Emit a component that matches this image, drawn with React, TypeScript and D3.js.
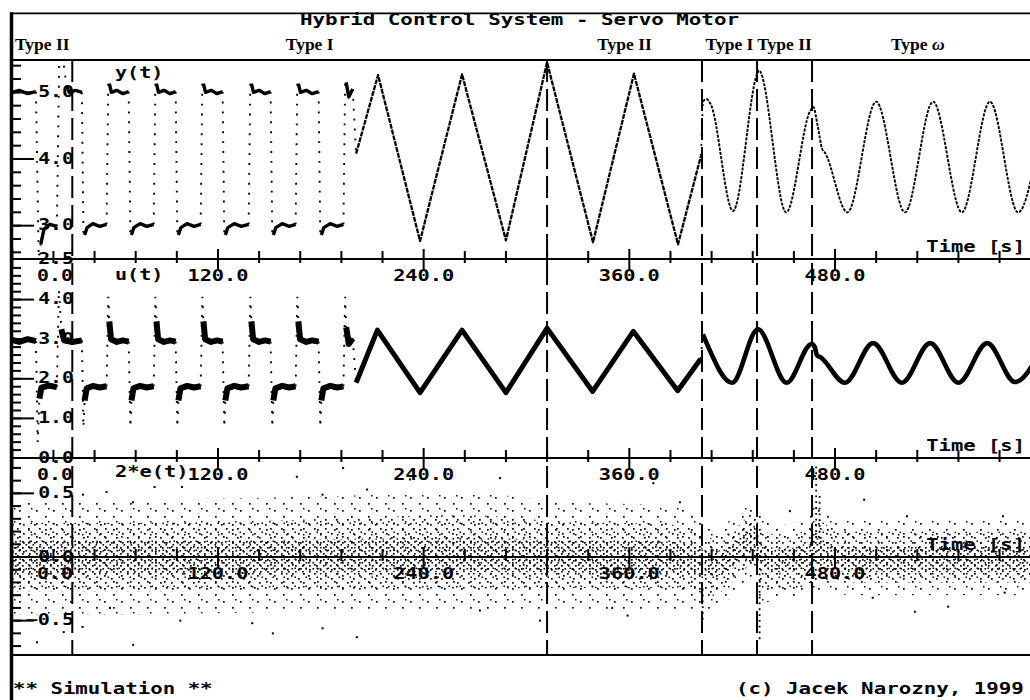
import React from "react";
import * as d3 from "d3";

type Pt = [number, number];

// ---------- header / axes ----------
const TITLE = "Hybrid Control System - Servo Motor";
const FOOTER_LEFT = "** Simulation **";
const FOOTER_RIGHT = "(c) Jacek Narozny, 1999";
const modeBounds = [0, 35, 312, 402.4, 434.5, 466.6, 590];
const modeNames = ["Type II", "Type I", "Type II", "Type I", "Type II", "Type ω"];
const switchTimes = [35, 312, 402.4, 434.5, 466.6];

const timeTicks = d3.range(0, 601, 24);
const timeLabels = [0, 120, 240, 360, 480];

const yTicksMinor = d3.range(2.6, 5.45, 0.2);
const yTicksLabeled = [3, 4, 5];
const uTicksMinor = d3.range(0.2, 4.85, 0.2);
const uTicksLabeled = [1, 2, 3, 4];
const eTicksMinor = d3.range(-0.7, 0.75, 0.1);
const eTicksLabeled = [-0.5, 0, 0.5];

// ---------- y(t): plant output ----------
const ySegs: Pt[][] = [
  [[0, 5.0], [4, 5.03], [9, 4.98], [13.8, 5.01]],
  [[16.6, 2.72], [18.5, 2.95], [22, 3.02], [26.0, 2.99]],
  [[31.6, 5.1], [33.2, 5.0], [37, 5.03], [40.6, 5.0]],
  [[42.2, 2.86], [43.6, 2.97], [47, 3.03], [51, 2.99], [55.0, 3.02]],
  [[56.6, 5.13], [57.8, 5.0], [61, 5.03], [64.5, 4.98], [67.9, 5.01]],
  [[69.5, 2.86], [70.9, 2.97], [74.5, 3.03], [78.5, 2.99], [82.5, 3.02]],
  [[84.1, 5.13], [85.3, 5.0], [88.5, 5.03], [92, 4.98], [95.3, 5.01]],
  [[96.9, 2.86], [98.3, 2.97], [102, 3.03], [106, 2.99], [109.9, 3.02]],
  [[111.5, 5.13], [112.7, 5.0], [116, 5.03], [119.5, 4.98], [122.7, 5.01]],
  [[124.3, 2.86], [125.7, 2.97], [129.5, 3.03], [133.5, 2.99], [137.9, 3.02]],
  [[139.5, 5.13], [140.7, 5.0], [144, 5.03], [147.5, 4.98], [150.7, 5.01]],
  [[152.3, 2.86], [153.7, 2.97], [157.5, 3.03], [161.5, 2.99], [165.3, 3.02]],
  [[166.9, 5.13], [168.1, 5.0], [171.5, 5.03], [175, 4.98], [178.7, 5.01]],
  [[180.3, 2.86], [181.7, 2.97], [185.5, 3.03], [189.5, 2.99], [193.2, 3.02]],
  [[194.8, 5.15], [196.3, 4.93], [198.6, 5.05]],
  [[200.6, 4.08], [213.4, 5.26], [237.9, 2.77], [262.4, 5.27], [288, 2.78], [312, 5.45],
   [338.8, 2.75], [362.7, 5.28], [388.4, 2.72], [401.8, 4.05]],
  [[402.9, 4.86], [405, 4.9], [407.5, 4.82], [420.5, 3.22], [434.6, 5.28], [435.6, 5.33],
   [451.5, 3.2], [465.5, 4.72], [467.3, 4.78], [470, 4.48], [472.5, 4.15], [474, 4.1],
   [487.2, 3.2], [504, 4.86], [520.8, 3.2], [537.2, 4.86], [554, 3.2], [570.4, 4.86],
   [586.8, 3.2], [600, 4.45]],
];
// extreme value passed through while jumping from one segment to the next
const yJumps: (Pt | null)[] = [
  [15.4, 2.52], [27.6, 5.9], [41.5, 2.83], [56.0, 5.18], [68.9, 2.83], [83.5, 5.18],
  [96.3, 2.83], [110.9, 5.18], [123.7, 2.83], [138.9, 5.18], [151.7, 2.83], [166.3, 5.18],
  [179.7, 2.83], [194.2, 5.18], null, null,
];

// ---------- u(t): control signal ----------
const uSegs: Pt[][] = [
  [[0, 2.98], [4, 2.93], [9, 3.0], [13.8, 2.95]],
  [[15.8, 1.5], [17, 1.78], [21, 1.83], [26, 1.79]],
  [[28.6, 3.25], [30.2, 2.97], [35, 2.93], [40.6, 2.97]],
  [[42.2, 1.45], [43.4, 1.76], [47, 1.82], [51, 1.78], [55, 1.81]],
  [[56.6, 3.45], [57.6, 3.0], [61, 2.93], [64.5, 2.97], [67.9, 2.94]],
  [[69.5, 1.45], [70.7, 1.76], [74.5, 1.82], [78.5, 1.78], [82.5, 1.81]],
  [[84.1, 3.45], [85.1, 3.0], [88.5, 2.93], [92, 2.97], [95.3, 2.94]],
  [[96.9, 1.45], [98.1, 1.76], [102, 1.82], [106, 1.78], [109.9, 1.81]],
  [[111.5, 3.45], [112.5, 3.0], [116, 2.93], [119.5, 2.97], [122.7, 2.94]],
  [[124.3, 1.45], [125.5, 1.76], [129.5, 1.82], [133.5, 1.78], [137.9, 1.81]],
  [[139.5, 3.45], [140.5, 3.0], [144, 2.93], [147.5, 2.97], [150.7, 2.94]],
  [[152.3, 1.45], [153.5, 1.76], [157.5, 1.82], [161.5, 1.78], [165.3, 1.81]],
  [[166.9, 3.45], [167.9, 3.0], [171.5, 2.93], [175, 2.97], [178.7, 2.94]],
  [[180.3, 1.45], [181.5, 1.76], [185.5, 1.82], [189.5, 1.78], [193.2, 1.81]],
  [[194.8, 3.3], [196.3, 2.88], [198.6, 3.02]],
  [[200.6, 1.9], [213, 3.23], [237.9, 1.65], [262.4, 3.23], [288, 1.65], [312, 3.28],
   [338.6, 1.68], [362.3, 3.2], [388.2, 1.7], [401.6, 2.5]],
  [[402.9, 3.12], [404.3, 2.98], [420, 1.9], [435, 3.25], [451.8, 1.9], [466.4, 2.88],
   [468.2, 2.8], [469.4, 2.6], [472, 2.53], [485.8, 1.9], [502.2, 2.9], [519, 1.9],
   [535.5, 2.9], [552, 1.9], [568.8, 2.9], [585, 1.92], [600, 2.72]],
];
const uJumps: (Pt | null)[] = [
  [14.8, 0.4], [27.2, 4.25], [41.5, 0.78], [56.0, 4.07], [68.9, 0.78], [83.5, 4.07],
  [96.3, 0.78], [110.9, 4.07], [123.7, 0.78], [138.9, 4.07], [151.7, 0.78], [166.3, 4.07],
  [179.7, 0.78], [194.2, 4.07], null, null,
];

// ---------- 2*e(t): tracking error, spread of the sample cloud ----------
const eT = [0, 35, 100, 200, 230, 290, 312, 360, 400, 404, 412, 420, 428, 433, 436, 445, 460, 467, 472, 478, 500, 560, 600];
const eCoreHi = [0.13, 0.13, 0.13, 0.14, 0.15, 0.15, 0.13, 0.13, 0.12, 0.04, 0.04, 0.1, 0.2, 0.3, 0.1, 0.06, 0.07, 0.15, 0.15, 0.08, 0.08, 0.08, 0.08];
const eCoreLo = [-0.13, -0.13, -0.13, -0.12, -0.12, -0.12, -0.12, -0.13, -0.12, -0.16, -0.15, -0.1, 0.0, 0.1, -0.12, -0.12, -0.12, -0.05, -0.05, -0.12, -0.12, -0.12, -0.12];
const eInnerHi = [0.27, 0.27, 0.27, 0.3, 0.33, 0.33, 0.27, 0.27, 0.25, 0.15, 0.14, 0.2, 0.3, 0.38, 0.22, 0.16, 0.16, 0.3, 0.3, 0.2, 0.2, 0.2, 0.2];
const eInnerLo = [-0.27, -0.27, -0.27, -0.25, -0.25, -0.25, -0.24, -0.25, -0.24, -0.32, -0.3, -0.2, -0.1, 0.0, -0.24, -0.26, -0.26, -0.18, -0.18, -0.2, -0.2, -0.2, -0.2];
const eOuterHi = [0.45, 0.45, 0.45, 0.48, 0.5, 0.5, 0.42, 0.42, 0.4, 0.25, 0.22, 0.3, 0.4, 0.45, 0.3, 0.25, 0.25, 0.4, 0.4, 0.3, 0.3, 0.3, 0.3];
const eOuterLo = [-0.45, -0.45, -0.45, -0.42, -0.42, -0.42, -0.4, -0.42, -0.4, -0.45, -0.42, -0.3, -0.2, -0.1, -0.4, -0.32, -0.32, -0.28, -0.28, -0.3, -0.3, -0.3, -0.3];
// fast error excursions at mode switches: [t, from, to]
const eStreaks: [number, number, number][] = [
  [402.8, -0.25, -0.5], [436, -0.13, -0.66], [469, 0.15, 0.72], [471, 0.1, 0.5],
];
const eOutliers: Pt[] = [
  [14.4, -0.67], [30, -0.59], [41.3, 0.49], [41, -0.55], [55, 0.51], [57, -0.4], [70.4, 0.43],
  [70.5, -0.69], [83, 0.55], [98, -0.5], [99, 0.55], [140, -0.52], [152, -0.6], [166, 0.63],
  [181, 0.49], [181, -0.56], [193, 0.7], [201, -0.63], [207, 0.53], [232, 0.61], [252.5, 0.69],
  [272.8, -0.42], [284.6, 0.62], [307.9, -0.5], [350, -0.4], [359, -0.46], [374, 0.58],
  [389.5, 0.43], [453.7, 0.36], [497, 0.45], [502, -0.32], [522, 0.32], [526.6, -0.43],
  [546, -0.39], [578, 0.32], [579, -0.28],
];

// ---------- layout ----------
const W = 1030;
const H = 700;
const LEFT = 12;
const FRAME_TOP = 13.3;
const HEADER_BOTTOM = 60;
const P1_AXIS = 259;
const P2_AXIS = 458;
const P3_ZERO = 557;
const P3_BOTTOM = 655;

const x = d3.scaleLinear().domain([0, 600]).range([12.3, 1040.7]);
const y1 = d3.scaleLinear().domain([2.5, 5.5]).range([P1_AXIS, 59]);
const y2 = d3.scaleLinear().domain([0, 5]).range([P2_AXIS, 260]);
const y3 = d3.scaleLinear().domain([-0.77, 0.77]).range([P3_BOTTOM, 459]);

const MONO = "'DejaVu Sans Mono','Liberation Mono',monospace";
const SERIF = "'Liberation Serif','DejaVu Serif',serif";
const CW = 12.6;
const fmt = d3.format(".1f");

function Mono({ px, py, s, anchor = "start" }: { px: number; py: number; s: string; anchor?: string }) {
  return (
    <text x={px} y={py} fontFamily={MONO} fontWeight={700} fontSize={15} textAnchor={anchor as any}
      textLength={s.length * CW - 2} lengthAdjust="spacingAndGlyphs" fill="#000">
      {s}
    </text>
  );
}

function TimeAxis({ ay, labelY, timeLabelY }: { ay: number; labelY: number; timeLabelY: number }) {
  return (
    <g>
      <line x1={LEFT} x2={W} y1={ay} y2={ay} stroke="#000" strokeWidth={2} />
      {timeTicks.map((t) => {
        const major = t % 120 === 0;
        return (
          <line key={t} x1={x(t)} x2={x(t)} y1={ay - (major ? 10 : 8)} y2={ay + (major ? 10 : 4)}
            stroke="#000" strokeWidth={2} />
        );
      })}
      {timeLabels.map((t) => (
        <Mono key={t} px={Math.max(x(t), 55)} py={labelY} s={fmt(t)} anchor="middle" />
      ))}
      <Mono px={1025} py={timeLabelY} s="Time [s]" anchor="end" />
    </g>
  );
}

function ValueAxis({ scale, minor, labeled, extra }: {
  scale: d3.ScaleLinear<number, number>; minor: number[]; labeled: number[]; extra?: number;
}) {
  const lab = extra === undefined ? labeled : [...labeled, extra];
  return (
    <g>
      {minor.map((v, i) => (
        <line key={"m" + i} x1={LEFT} x2={LEFT + 9} y1={scale(v)} y2={scale(v)} stroke="#000" strokeWidth={2} />
      ))}
      {labeled.map((v) => (
        <line key={"M" + v} x1={LEFT} x2={LEFT + 22} y1={scale(v)} y2={scale(v)} stroke="#000" strokeWidth={2} />
      ))}
      {lab.map((v) => (
        <Mono key={"L" + v} px={74} py={scale(v) + 4.5} s={fmt(v)} anchor="end" />
      ))}
    </g>
  );
}

function Trace({ segs, jumps, ys, clip, kind }: {
  segs: Pt[][]; jumps: (Pt | null)[]; ys: d3.ScaleLinear<number, number>; clip: string; kind: "y" | "u";
}) {
  const lin = d3.line<Pt>().x((d) => x(d[0])).y((d) => ys(d[1]));
  const smooth = d3.line<Pt>().x((d) => x(d[0])).y((d) => ys(d[1])).curve(d3.curveMonotoneX);
  const last = segs.length - 1;
  return (
    <g clipPath={`url(#${clip})`}>
      {jumps.map((j, i) => {
        const a = segs[i][segs[i].length - 1];
        const b = segs[i + 1][0];
        const pts: Pt[] = j ? [a, j, b] : [a, b];
        return (
          <path key={"j" + i} d={lin(pts) || ""} fill="none" stroke="#000" strokeWidth={1.9}
            strokeDasharray="1.9 8" />
        );
      })}
      {segs.map((s, i) => {
        const square = i < last - 1;
        const tri = i === last - 1;
        let w: number;
        let dash: string | undefined;
        if (kind === "y") {
          w = square ? 3.4 : tri ? 2.3 : 1.9;
          dash = square ? undefined : tri ? "5 1" : "3 1.3";
        } else {
          w = square ? 6 : tri ? 5 : 4.6;
          dash = undefined;
        }
        const gen = i === last ? smooth : lin;
        return (
          <path key={"s" + i} d={gen(s) || ""} fill="none" stroke="#000" strokeWidth={w}
            strokeDasharray={dash} strokeLinejoin="round" />
        );
      })}
    </g>
  );
}

export default function App() {
  const band = (hi: number[], lo: number[]) =>
    d3.area<number>()
      .x((t) => x(t))
      .y0((_, i) => y3(lo[i]))
      .y1((_, i) => y3(hi[i]))
      .curve(d3.curveBasis)(eT) || "";

  return (
    <svg width={W} height={H} viewBox={`0 0 ${W} ${H}`}
      style={{ position: "absolute", left: 0, top: 0, background: "#fff" }}>
      <defs>
        <clipPath id="c1"><rect x={LEFT} y={HEADER_BOTTOM} width={W - LEFT} height={P1_AXIS - HEADER_BOTTOM} /></clipPath>
        <clipPath id="c2"><rect x={LEFT} y={P1_AXIS} width={W - LEFT} height={P2_AXIS - P1_AXIS} /></clipPath>
        <clipPath id="c3"><rect x={LEFT} y={P2_AXIS} width={W - LEFT} height={P3_BOTTOM - P2_AXIS} /></clipPath>
        <pattern id="dotsSparse" patternUnits="userSpaceOnUse" width={17} height={13}>
          <rect x={2} y={3} width={1.7} height={1.7} fill="#000" />
          <rect x={11} y={9} width={1.7} height={1.7} fill="#000" />
          <rect x={14} y={1} width={1.5} height={1.5} fill="#000" />
        </pattern>
        <pattern id="dotsMedium" patternUnits="userSpaceOnUse" width={11} height={9}>
          <rect x={1} y={2} width={1.7} height={1.7} fill="#000" />
          <rect x={6} y={6} width={1.7} height={1.7} fill="#000" />
          <rect x={8.5} y={0.5} width={1.5} height={1.5} fill="#000" />
        </pattern>
        <pattern id="dotsDense" patternUnits="userSpaceOnUse" width={7} height={6}>
          <rect x={1} y={1} width={1.7} height={1.7} fill="#000" />
          <rect x={4.5} y={4} width={1.6} height={1.6} fill="#000" />
        </pattern>
      </defs>

      {/* frame */}
      <line x1={10} x2={W} y1={FRAME_TOP} y2={FRAME_TOP} stroke="#000" strokeWidth={1.8} />
      <line x1={10} x2={W} y1={HEADER_BOTTOM} y2={HEADER_BOTTOM} stroke="#000" strokeWidth={2} />
      <line x1={10} x2={W} y1={P3_BOTTOM} y2={P3_BOTTOM} stroke="#000" strokeWidth={2} />
      <line x1={11.5} x2={11.5} y1={FRAME_TOP - 1} y2={H} stroke="#000" strokeWidth={3.5} />

      {/* title and mode labels */}
      <Mono px={300} py={25} s={TITLE} />
      {modeNames.map((name, i) => {
        const cx = x((modeBounds[i] + modeBounds[i + 1]) / 2);
        const omega = name.endsWith("ω");
        return (
          <text key={i} x={cx} y={50} textAnchor="middle" fontFamily={SERIF} fontWeight={700} fontSize={17.5}>
            {omega ? <>Type <tspan fontStyle="italic">ω</tspan></> : name}
          </text>
        );
      })}

      {/* panel 1 : y(t) */}
      <ValueAxis scale={y1} minor={yTicksMinor} labeled={yTicksLabeled} extra={2.5} />
      <Mono px={115} py={78} s="y(t)" />
      <Trace segs={ySegs} jumps={yJumps} ys={y1} clip="c1" kind="y" />
      <TimeAxis ay={P1_AXIS} labelY={281} timeLabelY={252} />

      {/* panel 2 : u(t) */}
      <ValueAxis scale={y2} minor={uTicksMinor} labeled={uTicksLabeled} extra={0} />
      <Mono px={115} py={280} s="u(t)" />
      <Trace segs={uSegs} jumps={uJumps} ys={y2} clip="c2" kind="u" />
      <TimeAxis ay={P2_AXIS} labelY={480} timeLabelY={451} />

      {/* panel 3 : 2*e(t) */}
      <ValueAxis scale={y3} minor={eTicksMinor} labeled={eTicksLabeled} />
      <Mono px={115} py={477} s="2*e(t)" />
      <TimeAxis ay={P3_ZERO} labelY={579} timeLabelY={550} />
      <g clipPath="url(#c3)">
        <path d={band(eOuterHi, eOuterLo)} fill="url(#dotsSparse)" />
        <path d={band(eInnerHi, eInnerLo)} fill="url(#dotsMedium)" />
        <path d={band(eCoreHi, eCoreLo)} fill="url(#dotsDense)" />
        {eStreaks.map(([t, a, b], i) => (
          <line key={i} x1={x(t)} x2={x(t)} y1={y3(a)} y2={y3(b)} stroke="#000" strokeWidth={1.8}
            strokeDasharray="1.8 4" />
        ))}
        {eOutliers.map(([t, v], i) => (
          <rect key={i} x={x(t) - 1} y={y3(v) - 1} width={2} height={2} fill="#000" />
        ))}
      </g>

      {/* controller switching instants */}
      {switchTimes.map((t) => (
        <line key={t} x1={x(t)} x2={x(t)} y1={HEADER_BOTTOM} y2={P3_BOTTOM} stroke="#000" strokeWidth={2}
          strokeDasharray="22 7" />
      ))}

      {/* footer */}
      <Mono px={13} py={694} s={FOOTER_LEFT} />
      <Mono px={736} py={694} s={FOOTER_RIGHT} />
    </svg>
  );
}
